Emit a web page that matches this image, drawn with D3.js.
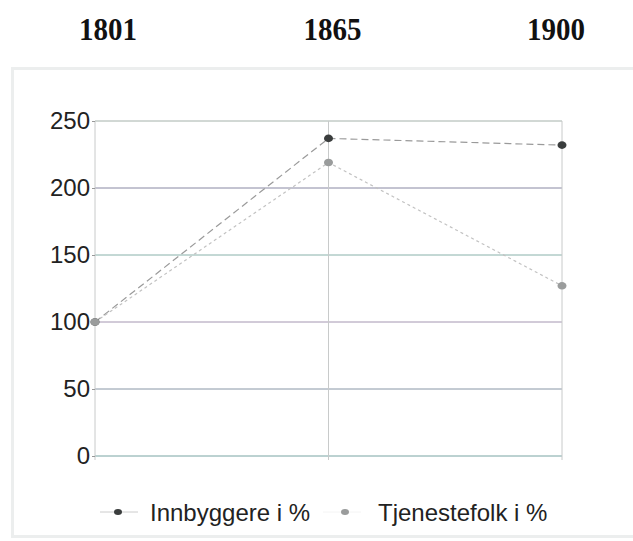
<!DOCTYPE html>
<html>
<head>
<meta charset="utf-8">
<script src="https://cdn.jsdelivr.net/npm/d3@7"></script>
<style>
	body { margin: 0; background: #fff; }
	svg { display: block; }
</style>
</head>
<body>
<div id="chart"></div>
<script>
const years = ['1801', '1865', '1900'];
const innbyggere = [100, 237, 232];
const tjenestefolk = [100, 219, 127];
const yTicks = [0, 50, 100, 150, 200, 250];
const seriesNames = ['Innbyggere i %', 'Tjenestefolk i %'];

const width = 633;
const height = 541;
const margin = { top: 121, right: 71, bottom: 85, left: 95 };

const svg = d3.select('#chart').append('svg')
	.attr('width', width)
	.attr('height', height);

// outer frame
svg.append('rect')
	.attr('x', 12.5).attr('y', 68.5)
	.attr('width', 640).attr('height', 468)
	.attr('fill', 'none')
	.attr('stroke', '#eceeee')
	.attr('stroke-width', 3);

const x = d3.scalePoint()
	.domain(years)
	.range([margin.left, width - margin.right]);

const y = d3.scaleLinear()
	.domain([0, 250])
	.range([height - margin.bottom, margin.top]);

// year headers
svg.append('g')
	.selectAll('text')
	.data(years)
	.join('text')
	.attr('x', (d, i) => x(d) + [13, 4, -6][i])
	.attr('y', 40)
	.attr('text-anchor', 'middle')
	.attr('textLength', 58)
	.attr('lengthAdjust', 'spacingAndGlyphs')
	.style('font-family', '"Liberation Serif", "DejaVu Serif", serif')
	.style('font-weight', 'bold')
	.style('font-size', '31px')
	.attr('fill', '#111')
	.text((d) => d);

// horizontal grid
const gridColors = ['#6a9a98', '#7a8a9c', '#9a8aa8', '#7aa8a0', '#7a7a98', '#9aa8a0'];
svg.append('g')
	.selectAll('line')
	.data(yTicks)
	.join('line')
	.attr('x1', margin.left)
	.attr('x2', width - margin.right)
	.attr('y1', (d) => y(d))
	.attr('y2', (d) => y(d))
	.attr('stroke', (d, i) => gridColors[i])
	.attr('stroke-width', 0.9);

// vertical grid
svg.append('g')
	.selectAll('line')
	.data(years)
	.join('line')
	.attr('x1', (d) => x(d))
	.attr('x2', (d) => x(d))
	.attr('y1', y(250))
	.attr('y2', y(0) + 4)
	.attr('stroke', '#c8caca')
	.attr('stroke-width', 1);

// y axis
const yAxis = d3.axisLeft(y)
	.tickValues(yTicks)
	.tickSize(3)
	.tickPadding(2);

const yg = svg.append('g')
	.attr('transform', `translate(${margin.left},0)`)
	.call(yAxis);
yg.select('.domain').remove();
yg.selectAll('line').attr('stroke', '#999');
yg.selectAll('text')
	.style('font-family', '"Liberation Sans", Arial, sans-serif')
	.style('font-size', '24px')
	.attr('fill', '#222');

const series = [
	{ name: seriesNames[0], values: innbyggere, line: '#9a9a9a', dash: '7,4', dot: '#3a3d3d' },
	{ name: seriesNames[1], values: tjenestefolk, line: '#c2c2c2', dash: '3,3', dot: '#9a9c9c' },
];

const line = d3.line()
	.x((d, i) => x(years[i]))
	.y((d) => y(d));

series.forEach((s) => {
	svg.append('path')
		.datum(s.values)
		.attr('d', line)
		.attr('fill', 'none')
		.attr('stroke', s.line)
		.attr('stroke-width', 1.2)
		.attr('stroke-dasharray', s.dash);
});

// markers drawn on top
series.forEach((s) => {
	svg.append('g')
		.selectAll('ellipse')
		.data(s.values)
		.join('ellipse')
		.attr('cx', (d, i) => x(years[i]))
		.attr('cy', (d) => y(d))
		.attr('rx', 4.5)
		.attr('ry', 3.8)
		.attr('fill', s.dot);
});

// legend
const legend = svg.append('g').attr('transform', 'translate(0,512)');
const legendX = [100, 323];
series.forEach((s, i) => {
	const g = legend.append('g').attr('transform', `translate(${legendX[i]},0)`);
	g.append('line')
		.attr('x1', 0).attr('x2', 38)
		.attr('stroke', i === 0 ? '#cccccc' : '#f4f4f4')
		.attr('stroke-width', 1);
	g.append('ellipse')
		.attr('cx', 18 + (i === 0 ? 0 : 4)).attr('cy', 0)
		.attr('rx', 4).attr('ry', 3)
		.attr('fill', s.dot);
	g.append('text')
		.attr('x', i === 0 ? 50 : 55)
		.attr('y', 9)
		.style('font-family', '"Liberation Sans", Arial, sans-serif')
		.style('font-size', '24px')
		.attr('fill', '#222')
		.text(s.name);
});
</script>
</body>
</html>
